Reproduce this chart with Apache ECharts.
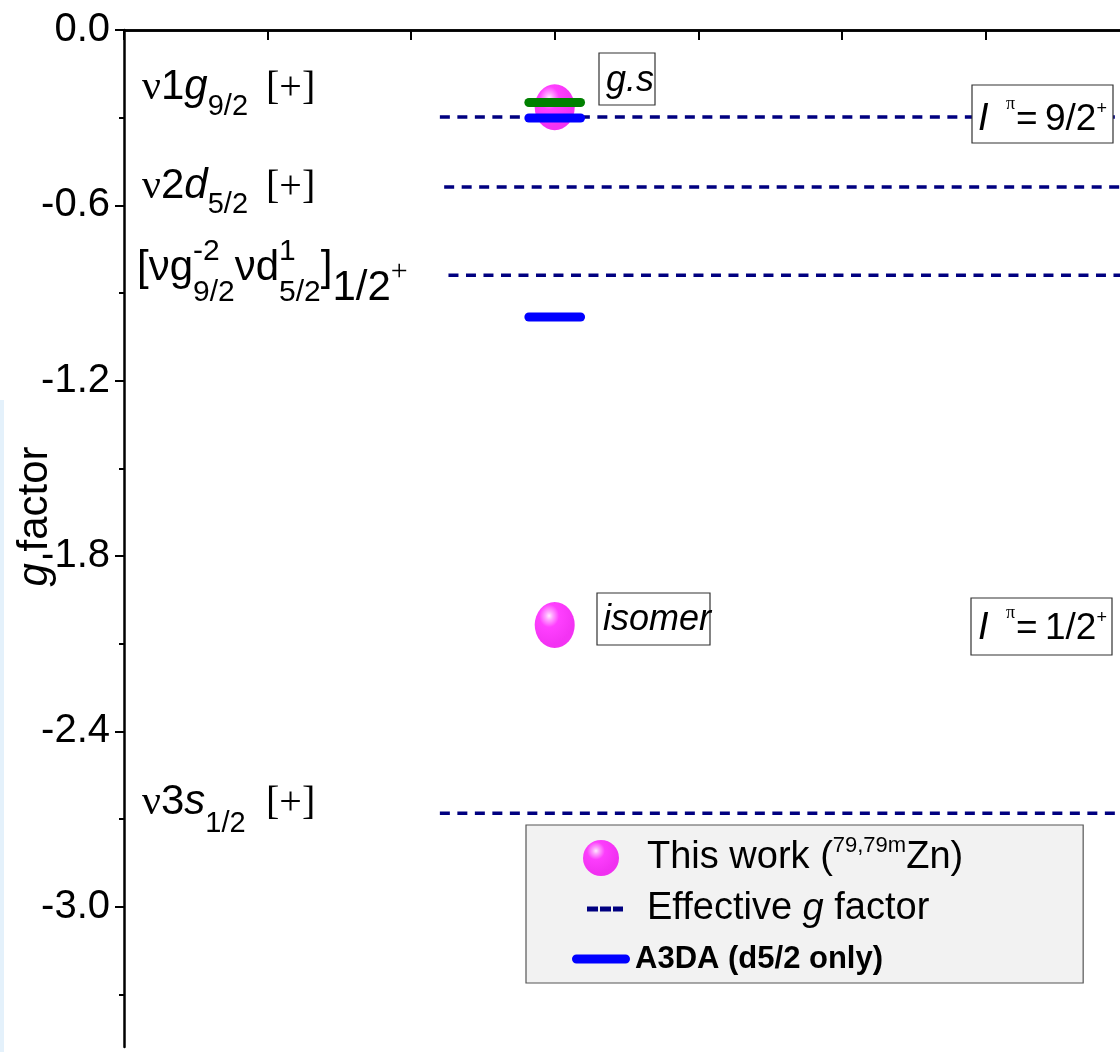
<!DOCTYPE html>
<html>
<head>
<meta charset="utf-8">
<script src="https://cdn.jsdelivr.net/npm/echarts@6/dist/echarts.min.js"></script>
<style>
  html, body { margin: 0; padding: 0; background: #fff; }
  #chart { width: 1120px; height: 1052px; }
</style>
</head>
<body>
<div id="chart"></div>
<script>
// y ticks (g factor)
const majorTicks = [0, -0.6, -1.2, -1.8, -2.4, -3.0];
const minorTicks = [-0.3, -0.9, -1.5, -2.1, -2.7, -3.3];

// measured g factors of 79Zn ground state and 79mZn isomer
const thisWork = [[3, -0.264], [3, -2.036]];

// effective g factor levels: nu1g9/2, nu2d5/2, [..]1/2+, nu3s1/2
const effectiveG = [-0.298, -0.537, -0.839, -2.68];
const effectiveStart = [2.2, 2.23, 2.26, 2.2];

// calculations drawn as short bars around x = 3
const a3daValues = [-0.301, -0.982];
const greenValues = [-0.248];
const barSpan = [2.82, 3.18];

const SANS = '"Liberation Sans", Arial, sans-serif';
const SERIF = '"Liberation Serif", "Times New Roman", serif';

const chart = echarts.init(document.getElementById('chart'));

const measure = document.createElement('canvas').getContext('2d');

// lays out a little formula from pieces, baseline based
function formula(x0, base, pieces) {
  const els = [];
  let x = x0;
  pieces.forEach(p => {
    if (p.at !== undefined) x = p.at;
    const parts = p.stack || [p];
    let adv = 0;
    parts.forEach(q => {
      const family = q.family || SANS;
      const style = q.italic ? 'italic' : 'normal';
      measure.font = style + ' ' + q.size + 'px ' + family;
      adv = Math.max(adv, measure.measureText(q.t).width);
      els.push({
        type: 'text', z: 100, silent: true,
        style: {
          text: q.t, x: x, y: base + (q.dy || 0) - 0.345 * q.size,
          fontSize: q.size, fontFamily: family, fontStyle: style,
          fill: '#000', align: 'left', verticalAlign: 'middle'
        }
      });
    });
    x += adv;
  });
  return els;
}

function box(x, y, w, h) {
  return {
    type: 'rect', z: 99, silent: true,
    shape: { x: x, y: y, width: w, height: h },
    style: { fill: '#fff', stroke: '#333', lineWidth: 1.2 }
  };
}

const graphics = [
  { type: 'rect', z: 0, silent: true, shape: { x: 0, y: 400, width: 4, height: 652 }, style: { fill: '#e4f1fb' } },
  ...formula(142, 102, [
    { t: 'ν', size: 42, family: SERIF }, { t: '1', size: 42 }, { t: 'g', size: 42, italic: true },
    { t: '9/2', size: 29, dy: 15 }, { t: '[+]', size: 40, family: SERIF, at: 266 }
  ]),
  ...formula(142, 201, [
    { t: 'ν', size: 42, family: SERIF }, { t: '2', size: 42 }, { t: 'd', size: 42, italic: true },
    { t: '5/2', size: 29, dy: 14 }, { t: '[+]', size: 40, family: SERIF, at: 266 }
  ]),
  ...formula(137, 283, [
    { t: '[', size: 42 }, { t: 'ν', size: 42 }, { t: 'g', size: 42 },
    { stack: [{ t: '-2', size: 30, dy: -21 }, { t: '9/2', size: 30, dy: 20 }] },
    { t: 'ν', size: 42 }, { t: 'd', size: 42 },
    { stack: [{ t: '1', size: 30, dy: -21 }, { t: '5/2', size: 30, dy: 20 }] },
    { t: ']', size: 42 }, { t: '1/2', size: 42, dy: 20 }, { t: '+', size: 30, family: SERIF, dy: -1 }
  ]),
  ...formula(142, 817, [
    { t: 'ν', size: 42, family: SERIF }, { t: '3', size: 42 }, { t: 's', size: 42, italic: true },
    { t: '1/2', size: 29, dy: 17 }, { t: '[+]', size: 40, family: SERIF, at: 266 }
  ]),
  box(599, 53, 56, 52),
  ...formula(606, 93, [{ t: 'g.s', size: 36, italic: true }]),
  box(597, 593, 113, 52),
  ...formula(603, 632, [{ t: 'isomer', size: 36, italic: true }]),
  box(972, 85, 141, 58),
  ...formula(978, 133, [
    { t: 'I', size: 38, italic: true }, { t: 'π', size: 18, family: SERIF, dy: -23, at: 1006 },
    { t: '=', size: 37, at: 1016 }, { t: '9/2', size: 37, at: 1045 }, { t: '+', size: 18, dy: -18 }
  ]),
  box(971, 598, 141, 57),
  ...formula(978, 642, [
    { t: 'I', size: 38, italic: true }, { t: 'π', size: 18, family: SERIF, dy: -23, at: 1006 },
    { t: '=', size: 37, at: 1016 }, { t: '1/2', size: 37, at: 1045 }, { t: '+', size: 18, dy: -18 }
  ])
];

const ballColor = new echarts.graphic.RadialGradient(0.36, 0.3, 0.62, [
  { offset: 0, color: '#ffe6ff' },
  { offset: 0.15, color: '#ff8cff' },
  { offset: 0.4, color: '#ff10ff' },
  { offset: 1, color: '#f000f0' }
]);

const series = [
  {
    name: 'This work', type: 'scatter', data: thisWork,
    symbol: 'circle', symbolSize: [40, 46], z: 2,
    itemStyle: { color: ballColor }
  },
  ...effectiveG.map((v, i) => ({
    name: 'Effective g factor', type: 'line', z: 3,
    data: [[effectiveStart[i], v], [7, v]],
    symbol: 'none', color: '#000080',
    lineStyle: { color: '#000080', width: 3.5, type: [10, 7.5] }
  })),
  ...a3daValues.map(v => ({
    name: 'A3DA (d5/2 only)', type: 'line', z: 5,
    data: [[barSpan[0], v], [barSpan[1], v]],
    symbol: 'none', color: '#0000ff',
    lineStyle: { color: '#0000ff', width: 9, cap: 'round' }
  })),
  ...greenValues.map(v => ({
    name: 'green', type: 'line', z: 5,
    data: [[barSpan[0], v], [barSpan[1], v]],
    symbol: 'none', color: '#008000',
    lineStyle: { color: '#008000', width: 9, cap: 'round' }
  }))
];

const legendText = {
  'This work': '{p|This work (}{sup|79,79m}{m|Zn)}',
  'Effective g factor': '{p|Effective }{i|g}{m| factor}',
  'A3DA (d5/2 only)': 'A3DA (d5/2 only)'
};

const dashIcon = 'path://M0,0h0.01v0.01h-0.01z M15,15.5h11v5h-11z M28,15.5h11v5h-11z M41,15.5h10v5h-10z M57.99,35.99h0.01v0.01h-0.01z';
const barIcon = 'path://M0,0h0.01v0.01h-0.01z M4.5,13.5h49a4.5,4.5 0 0 1 0,9h-49a4.5,4.5 0 0 1 0,-9z M57.99,35.99h0.01v0.01h-0.01z';

const axisLine = { lineStyle: { color: '#000', width: 2.5 } };

chart.setOption({
  animation: false,
  backgroundColor: '#fff',
  grid: { left: 124, top: 30, width: 1005, height: 1017, containLabel: false, outerBoundsMode: 'none' },
  xAxis: [
    {
      type: 'value', min: 0, max: 7, interval: 1, position: 'bottom',
      axisLine: axisLine,
      axisTick: { inside: false, length: 8, lineStyle: { color: '#000', width: 2 } },
      axisLabel: { show: false }, splitLine: { show: false }
    },
    {
      type: 'value', min: 0, max: 7, interval: 1, position: 'top',
      axisLine: axisLine,
      axisTick: { inside: true, length: 10, lineStyle: { color: '#000', width: 2 } },
      axisLabel: { show: false }, splitLine: { show: false }
    }
  ],
  yAxis: [
    {
      type: 'value', min: -3.48, max: 0, position: 'left',
      axisLine: { show: true, lineStyle: { color: '#000', width: 2.5 } },
      axisTick: { show: true, customValues: majorTicks, length: 9, lineStyle: { color: '#000', width: 2 } },
      axisLabel: {
        customValues: majorTicks, margin: 14, color: '#000',
        fontSize: 40, fontFamily: SANS,
        formatter: v => v.toFixed(1)
      },
      splitLine: { show: false },
      name: '{i|g} factor', nameLocation: 'middle', nameGap: 68, nameMoveOverlap: false,
      nameTextStyle: {
        fontSize: 42, fontFamily: SANS, color: '#000', padding: [0, 0, 0, 44],
        rich: { i: { fontSize: 42, fontFamily: SANS, fontStyle: 'italic', color: '#000' } }
      }
    },
    {
      type: 'value', min: -3.48, max: 0, position: 'left',
      axisLine: { show: false },
      axisTick: { show: true, customValues: minorTicks, length: 5, lineStyle: { color: '#000', width: 2 } },
      axisLabel: { show: false }, splitLine: { show: false }
    }
  ],
  legend: {
    orient: 'vertical', left: 526, top: 825,
    padding: [10, 120, 6, 46], itemGap: 13, itemWidth: 58, itemHeight: 36,
    backgroundColor: '#f2f2f2', borderColor: '#555', borderWidth: 1.2,
    selectedMode: false,
    formatter: name => legendText[name],
    textStyle: {
      color: '#000', fontFamily: SANS, fontSize: 38,
      rich: {
        p: { fontSize: 38, fontFamily: SANS, color: '#000', padding: [0, 0, 0, 12] },
        m: { fontSize: 38, fontFamily: SANS, color: '#000' },
        i: { fontSize: 38, fontFamily: SANS, color: '#000', fontStyle: 'italic' },
        sup: { fontSize: 22, fontFamily: SANS, color: '#000', padding: [0, 0, 24, 0] }
      }
    },
    data: [
      { name: 'This work', icon: 'circle' },
      { name: 'Effective g factor', icon: dashIcon },
      { name: 'A3DA (d5/2 only)', icon: barIcon, textStyle: { fontWeight: 'bold', fontSize: 31, fontFamily: SANS, color: '#000' } }
    ]
  },
  graphic: graphics,
  series: series
});
</script>
</body>
</html>
